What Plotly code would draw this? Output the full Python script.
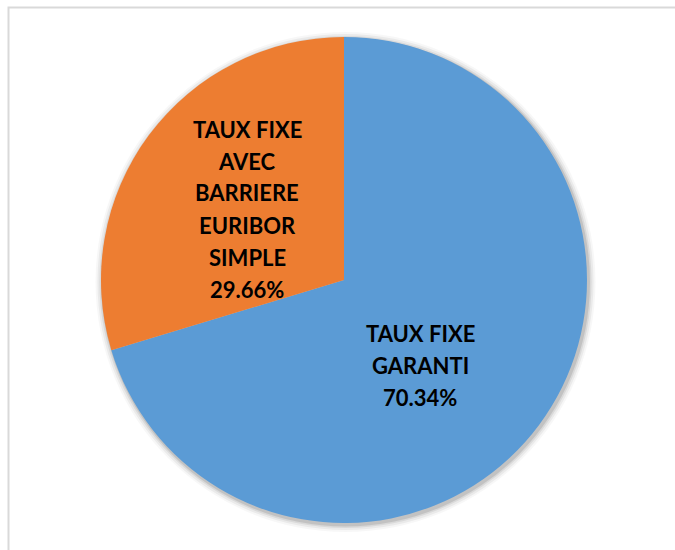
import plotly.graph_objects as go

# Data
categories = ["TAUX FIXE GARANTI", "TAUX FIXE AVEC BARRIERE EURIBOR SIMPLE"]
shares = [70.34, 29.66]
label_lines = [["TAUX FIXE", "GARANTI"], ["TAUX FIXE", "AVEC", "BARRIERE", "EURIBOR", "SIMPLE"]]
colors = ["#5B9BD5", "#ED7D31"]

W, H = 675, 550
CX, CY, R = 344, 280, 243  # pie centre and radius in pixels (from top-left)


def domain(cx, cy, r):
    return dict(x=[(cx - r) / W, (cx + r) / W],
                y=[(H - cy - r) / H, (H - cy + r) / H])


fig = go.Figure()

# soft shadow behind the pie
for grow, alpha in [(7, 0.03), (5, 0.05), (3, 0.07), (1.5, 0.10)]:
    fig.add_trace(go.Pie(values=[1], marker=dict(colors=[f"rgba(0,0,0,{alpha})"], line=dict(width=0)),
                         textinfo="none", hoverinfo="skip", showlegend=False, sort=False,
                         domain=domain(CX + 1.5, CY + 2, R + grow)))

fig.add_trace(go.Pie(
    labels=categories, values=shares, sort=False, direction="clockwise", rotation=0,
    marker=dict(colors=colors, line=dict(width=0)),
    textinfo="none", showlegend=False,
    domain=domain(CX, CY, R),
))

# slice labels, one line per annotation for wider line spacing
label_centres = [(420, 365), (247, 209)]
LINE = 32
font = dict(family="Lato, 'Open Sans', sans-serif", size=22, color="#000000")
for lines, share, (lx, ly) in zip(label_lines, shares, label_centres):
    all_lines = lines + [f"{share:.2f}%"]
    n = len(all_lines)
    for k, txt in enumerate(all_lines):
        y = ly + (k - (n - 1) / 2) * LINE
        fig.add_annotation(x=lx / W, y=1 - y / H, xref="paper", yref="paper",
                           text=f"<b>{txt}</b>", showarrow=False, font=font,
                           xanchor="center", yanchor="middle")

# chart-area border
fig.add_shape(type="rect", xref="paper", yref="paper",
              x0=8.5 / W, x1=1.05, y0=-0.05, y1=1 - 7.5 / H,
              line=dict(color="#D9D9D9", width=2), layer="above")

fig.update_layout(width=W, height=H, margin=dict(l=0, r=0, t=0, b=0),
                  paper_bgcolor="white", plot_bgcolor="white")

fig.write_html("out.html")
